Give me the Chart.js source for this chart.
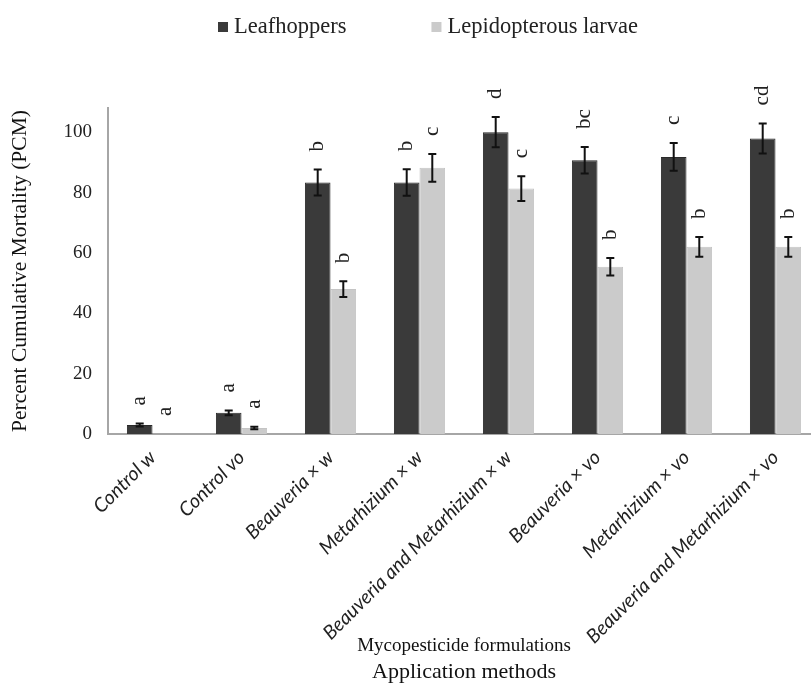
<!DOCTYPE html>
<html>
<head>
<meta charset="utf-8">
<script src="https://cdn.jsdelivr.net/npm/chart.js@4"></script>
<style>
  body { margin: 0; background: #fff; }
  #wrap { width: 811px; height: 689px; overflow: hidden; }
</style>
</head>
<body>
<div id="wrap"><canvas id="c" width="822" height="689" style="width:822px;height:689px"></canvas></div>
<script>
// data
const categories = ['Control w', 'Control vo', 'Beauveria × w', 'Metarhizium × w',
  'Beauveria and Metarhizium × w', 'Beauveria × vo', 'Metarhizium × vo', 'Beauveria and Metarhizium × vo'];
const leafhoppers = [3, 7, 83.3, 83.3, 100, 90.7, 91.8, 97.9];
const leafhoppersErr = [0.5, 0.8, 4.3, 4.4, 5, 4.4, 4.6, 5];
const leafhoppersLetters = ['a', 'a', 'b', 'b', 'd', 'bc', 'c', 'cd'];
const larvae = [0, 2, 48, 88.2, 81.3, 55.4, 62, 62];
const larvaeErr = [0, 0.4, 2.6, 4.6, 4.1, 2.9, 3.3, 3.3];
const larvaeLetters = ['a', 'a', 'b', 'c', 'c', 'b', 'b', 'b'];
const yTicks = [0, 20, 40, 60, 80, 100];

const serif = '"Liberation Serif", "Times New Roman", serif';

// error bars + significance letters
const errorBars = {
  id: 'errorBars',
  afterDatasetsDraw(chart) {
    const ctx = chart.ctx, y = chart.scales.y;
    chart.data.datasets.forEach((ds, i) => {
      const meta = chart.getDatasetMeta(i);
      meta.data.forEach((bar, j) => {
        const v = ds.data[j], e = ds.err[j];
        const top = y.getPixelForValue(v + e);
        if (e > 0) {
          const bot = y.getPixelForValue(v - e);
          ctx.save();
          ctx.strokeStyle = '#111';
          ctx.lineWidth = 2;
          ctx.beginPath();
          ctx.moveTo(bar.x, top); ctx.lineTo(bar.x, bot);
          ctx.moveTo(bar.x - 4, top); ctx.lineTo(bar.x + 4, top);
          ctx.moveTo(bar.x - 4, bot); ctx.lineTo(bar.x + 4, bot);
          ctx.stroke();
          ctx.restore();
        }
        ctx.save();
        ctx.translate(bar.x, top - 18);
        ctx.rotate(-Math.PI / 2);
        ctx.font = '21px ' + serif;
        ctx.fillStyle = '#222';
        ctx.textAlign = 'left';
        ctx.textBaseline = 'middle';
        ctx.fillText(ds.letters[j], 0, 0);
        ctx.restore();
      });
    });
  }
};

// legend drawn at the top like the original
const topLegend = {
  id: 'topLegend',
  afterDraw(chart) {
    const ctx = chart.ctx;
    ctx.save();
    ctx.font = '22.5px ' + serif;
    ctx.textBaseline = 'middle';
    const items = chart.data.datasets.map(ds => ({ text: ds.label, color: ds.backgroundColor, w: 16 + ctx.measureText(ds.label).width }));
    const gap = 85;
    const total = items.reduce((s, it) => s + it.w, 0) + gap * (items.length - 1);
    let x = 428 - total / 2;
    const yMid = 27;
    items.forEach(it => {
      ctx.fillStyle = it.color;
      ctx.fillRect(x, yMid - 5, 10, 10);
      ctx.fillStyle = '#222';
      ctx.fillText(it.text, x + 16, yMid);
      x += it.w + gap;
    });
    ctx.restore();
  }
};

new Chart(document.getElementById('c'), {
  type: 'bar',
  data: {
    labels: categories,
    datasets: [
      { label: 'Leafhoppers', data: leafhoppers, err: leafhoppersErr, letters: leafhoppersLetters,
        backgroundColor: '#3a3a3a', borderColor: '#2a2a2a', borderWidth: 1 },
      { label: 'Lepidopterous larvae', data: larvae, err: larvaeErr, letters: larvaeLetters,
        backgroundColor: '#cbcbcb', borderColor: '#c4c4c4', borderWidth: 1 }
    ]
  },
  options: {
    responsive: false,
    animation: false,
    layout: { padding: { top: 108, left: 0, right: 2, bottom: 0 } },
    datasets: { bar: { categoryPercentage: 0.575, barPercentage: 1 } },
    plugins: {
      legend: { display: false },
      tooltip: { enabled: false },
      title: {
        display: true, position: 'bottom', fullSize: false, text: 'Application methods',
        color: '#111', font: { family: serif, size: 22, weight: 'normal' },
        padding: { top: 0, bottom: 4 }
      }
    },
    scales: {
      x: {
        grid: { display: false, drawTicks: false },
        border: { color: '#a6a6a6', width: 2 },
        ticks: {
          color: '#222', maxRotation: 45, minRotation: 45, padding: 12,
          font: { family: 'Lato', style: 'italic', size: 19.5 }
        },
        title: {
          display: true, text: 'Mycopesticide formulations', color: '#111',
          font: { family: serif, size: 19 }, padding: { top: 0, bottom: 1 }
        },
        afterFit(s) { s.height = 689 - 434 - 30.4; }
      },
      y: {
        min: 0, max: 108,
        grid: { display: false, drawTicks: false },
        border: { color: '#a6a6a6', width: 2 },
        afterBuildTicks(s) { s.ticks = yTicks.map(v => ({ value: v })); },
        ticks: { color: '#222', padding: 16, font: { family: serif, size: 19 } },
        title: {
          display: true, text: 'Percent Cumulative Mortality (PCM)', color: '#111',
          font: { family: serif, size: 21.5 }, padding: { top: 7, bottom: 0 }
        },
        afterFit(s) { s.width = 108; }
      }
    }
  },
  plugins: [errorBars, topLegend]
});
</script>
</body>
</html>
